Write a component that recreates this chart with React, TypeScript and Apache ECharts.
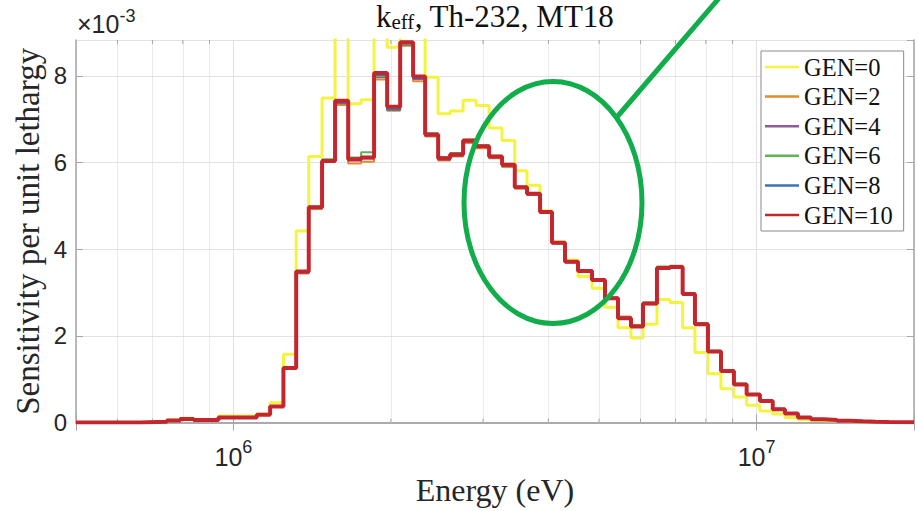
import React, { useEffect, useRef } from 'react';
import * as echarts from 'echarts';

// Energy bin edges (eV)
const EDGES = [
  5.0e5, 6.63e5, 7.46e5, 7.91e5, 8.39e5, 9.36e5, 1.108e6, 1.175e6, 1.246e6, 1.318e6,
  1.393e6, 1.477e6, 1.564e6, 1.657e6, 1.754e6, 1.857e6, 1.967e6, 2.083e6, 2.205e6, 2.325e6,
  2.462e6, 2.595e6, 2.748e6, 2.91e6, 3.081e6, 3.262e6, 3.45e6, 3.641e6, 3.856e6, 4.064e6,
  4.304e6, 4.557e6, 4.847e6, 5.132e6, 5.435e6, 5.754e6, 6.066e6, 6.451e6, 6.83e6, 7.224e6,
  7.625e6, 8.074e6, 8.551e6, 9.053e6, 9.574e6, 1.015e7, 1.074e7, 1.133e7, 1.2e7, 1.271e7,
  1.346e7, 1.425e7, 1.509e7, 1.597e7, 1.691e7, 1.791e7, 2.0e7,
];

// Sensitivity per unit lethargy (x10^-3), one value per bin
const GEN0 = [
  0.005, 0.02, 0.06, 0.1, 0.07, 0.15, 0.2, 0.46,
  1.58, 4.42, 6.14, 7.49, 9.6, 7.36, 7.45, 9.7,
  8.66, 10.3, 9.5, 7.97, 7.13, 7.19, 7.44, 7.32,
  6.8, 6.51, 5.81, 5.48, 4.89, 4.17, 3.75, 3.37,
  3.1, 2.66, 2.19, 1.95, 2.27, 2.84, 2.77, 2.19,
  1.62, 1.13, 0.78, 0.59, 0.4, 0.27, 0.2, 0.12,
  0.07, 0.05, 0.04, 0.025, 0.02, 0.012, 0.008, 0.004,
];
const GEN2 = [
  0.005, 0.02, 0.05, 0.085, 0.06, 0.12, 0.18, 0.37,
  1.24, 3.44, 4.93, 6.02, 7.33, 5.98, 6.02, 7.92,
  7.2, 8.7, 7.88, 6.6, 6.05, 6.14, 6.45, 6.33,
  6.1, 5.9, 5.4, 5.25, 4.84, 4.16, 3.72, 3.52,
  3.31, 2.89, 2.45, 2.25, 2.73, 3.55, 3.57, 2.95,
  2.26, 1.63, 1.18, 0.87, 0.64, 0.49, 0.3, 0.2,
  0.11, 0.074, 0.058, 0.04, 0.03, 0.02, 0.012, 0.006,
];
const GEN4 = [
  0.005, 0.02, 0.05, 0.085, 0.06, 0.12, 0.18, 0.36,
  1.25, 3.46, 4.95, 6.05, 7.37, 6.05, 6.1, 7.97,
  7.24, 8.72, 7.93, 6.62, 6.07, 6.16, 6.48, 6.36,
  6.12, 5.93, 5.42, 5.27, 4.85, 4.14, 3.7, 3.49,
  3.28, 2.86, 2.4, 2.21, 2.74, 3.56, 3.58, 2.96,
  2.26, 1.63, 1.19, 0.88, 0.65, 0.5, 0.31, 0.21,
  0.115, 0.075, 0.06, 0.04, 0.03, 0.02, 0.012, 0.006,
];
const GEN6 = [
  0.005, 0.02, 0.05, 0.085, 0.06, 0.12, 0.18, 0.37,
  1.26, 3.5, 4.99, 6.08, 7.4, 6.12, 6.24, 8.0,
  7.26, 8.74, 7.96, 6.68, 6.13, 6.22, 6.53, 6.4,
  6.16, 5.97, 5.45, 5.3, 4.88, 4.17, 3.73, 3.52,
  3.31, 2.89, 2.43, 2.24, 2.77, 3.6, 3.62, 2.99,
  2.3, 1.66, 1.21, 0.9, 0.66, 0.51, 0.32, 0.215,
  0.12, 0.078, 0.061, 0.041, 0.031, 0.02, 0.012, 0.006,
];
const GEN8 = [
  0.005, 0.02, 0.05, 0.085, 0.06, 0.12, 0.18, 0.37,
  1.25, 3.47, 4.96, 6.03, 7.38, 6.06, 6.1, 8.02,
  7.22, 8.76, 7.95, 6.63, 6.08, 6.17, 6.49, 6.37,
  6.13, 5.94, 5.42, 5.27, 4.85, 4.14, 3.7, 3.5,
  3.29, 2.87, 2.4, 2.21, 2.75, 3.58, 3.6, 2.98,
  2.28, 1.65, 1.2, 0.89, 0.65, 0.5, 0.31, 0.21,
  0.115, 0.076, 0.06, 0.04, 0.03, 0.02, 0.012, 0.006,
];
const GEN10 = [
  0.005, 0.02, 0.05, 0.085, 0.06, 0.12, 0.18, 0.37,
  1.26, 3.49, 4.97, 6.04, 7.43, 6.08, 6.12, 8.07,
  7.29, 8.78, 7.99, 6.65, 6.1, 6.19, 6.51, 6.38,
  6.14, 5.95, 5.43, 5.28, 4.86, 4.15, 3.71, 3.5,
  3.29, 2.87, 2.41, 2.22, 2.75, 3.57, 3.59, 2.97,
  2.27, 1.64, 1.19, 0.88, 0.65, 0.5, 0.31, 0.21,
  0.115, 0.076, 0.06, 0.04, 0.03, 0.02, 0.012, 0.006,
];

const SERIES_NAMES = ['GEN=0', 'GEN=2', 'GEN=4', 'GEN=6', 'GEN=8', 'GEN=10'];
const SERIES_COLORS = ['#f4f43e', '#e3892f', '#8f5b9f', '#62b256', '#3f72b0', '#c4262e'];
const SERIES_WIDTHS = [3, 2, 2, 2, 2, 4];
const MINOR_TICKS = [6e5, 7e5, 8e5, 9e5, 2e6, 3e6, 4e6, 5e6, 6e6, 7e6, 8e6, 9e6];
const X_MIN = 5e5;
const X_MAX = 2e7;
const Y_MAX = 8.83;

const SERIF = 'Liberation Serif';
const SANS = 'Liberation Sans';
const AXIS_COLOR = '#a6a6a6';
const GRID_COLOR = '#e2e2e2';
const GREEN = '#12ad4b';

export default function App() {
  const ref = useRef<HTMLDivElement>(null);

  useEffect(() => {
    if (!ref.current) return;
    const chart = echarts.init(ref.current, undefined, { renderer: 'svg' });
    const values = [GEN0, GEN2, GEN4, GEN6, GEN8, GEN10];
    const toSteps = (vals: number[]) => {
      const pts: number[][] = vals.map((v, i) => [EDGES[i], v]);
      pts.push([EDGES[EDGES.length - 1], vals[vals.length - 1]]);
      return pts;
    };

    const lineSeries: any[] = values.map((vals, i) => ({
      name: SERIES_NAMES[i],
      type: 'line',
      step: 'end',
      data: toSteps(vals),
      symbol: 'none',
      showSymbol: false,
      clip: true,
      silent: true,
      z: 3 + i,
      lineStyle: { color: SERIES_COLORS[i], width: SERIES_WIDTHS[i] },
      itemStyle: { color: SERIES_COLORS[i] },
      emphasis: { disabled: true },
    }));

    const minorGrid = {
      name: 'minor-grid',
      type: 'line',
      data: [[X_MIN, 0]],
      symbol: 'none',
      lineStyle: { width: 0 },
      z: 1,
      silent: true,
      markLine: {
        silent: true,
        symbol: 'none',
        label: { show: false },
        lineStyle: { type: 'dotted', color: '#d6d6d6', width: 1 },
        data: MINOR_TICKS.map((v) => ({ xAxis: v })),
      },
    };

    const xLabelFormatter = (v: number) => {
      const l = Math.log10(v);
      const e = Math.round(l);
      if (Math.abs(l - e) > 1e-6) return '';
      return `{b|10}{s|${e}}`;
    };

    const commonX = {
      type: 'log',
      logBase: 10,
      min: X_MIN,
      max: X_MAX,
      axisLine: { show: true, lineStyle: { color: AXIS_COLOR, width: 1.5 } },
      axisTick: { show: true, inside: true, length: 8, lineStyle: { color: AXIS_COLOR, width: 1 } },
      minorTick: { show: false },
    };

    const commonY = {
      type: 'value',
      min: 0,
      max: Y_MAX,
      interval: 2,
      axisLine: { show: true, lineStyle: { color: AXIS_COLOR, width: 1.5 } },
      axisTick: { show: true, inside: true, length: 7, lineStyle: { color: AXIS_COLOR, width: 1 } },
    };

    const option: any = {
      animation: false,
      backgroundColor: '#ffffff',
      title: {
        text: '{k|k}{sub|eff}{t|, Th-232, MT18}',
        left: 495,
        top: 0,
        textAlign: 'center',
        padding: 0,
        textStyle: {
          fontWeight: 'normal',
          fontFamily: SERIF,
          rich: {
            k: { fontFamily: SERIF, fontWeight: 'normal', fontSize: 31, lineHeight: 32, color: '#111' },
            sub: { fontFamily: SERIF, fontWeight: 'normal', fontSize: 21, lineHeight: 12, verticalAlign: 'bottom', color: '#111' },
            t: { fontFamily: SERIF, fontWeight: 'normal', fontSize: 31, lineHeight: 32, color: '#111' },
          },
        },
      },
      grid: { left: 76, right: 4, top: 40, bottom: 86, containLabel: false },
      legend: {
        data: SERIES_NAMES,
        orient: 'vertical',
        left: 761,
        top: 51,
        icon: 'rect',
        itemWidth: 34,
        itemHeight: 2.5,
        itemGap: 3.6,
        padding: [3, 11, 3, 4],
        borderColor: '#8a8a8a',
        borderWidth: 1,
        borderRadius: 0,
        backgroundColor: '#ffffff',
        selectedMode: false,
        textStyle: { fontFamily: SERIF, fontSize: 24.5, lineHeight: 26, color: '#111' },
        z: 20,
      },
      xAxis: [
        {
          ...commonX,
          position: 'bottom',
          name: 'Energy (eV)',
          nameLocation: 'middle',
          nameGap: 48,
          nameTextStyle: { fontFamily: SERIF, fontSize: 32, color: '#262626' },
          axisLabel: {
            show: true,
            margin: 15,
            formatter: xLabelFormatter,
            rich: {
              b: { fontFamily: SANS, fontSize: 25, lineHeight: 38, color: '#262626' },
              s: { fontFamily: SANS, fontSize: 18, lineHeight: 16, verticalAlign: 'top', color: '#262626' },
            },
          },
          splitLine: { show: true, lineStyle: { color: GRID_COLOR, width: 1 } },
        },
        {
          ...commonX,
          position: 'top',
          axisLabel: { show: false },
          splitLine: { show: false },
        },
      ],
      yAxis: [
        {
          ...commonY,
          position: 'left',
          name: 'Sensitivity per unit lethargy',
          nameLocation: 'middle',
          nameGap: 32,
          nameMoveOverlap: false,
          nameTextStyle: { fontFamily: SERIF, fontSize: 33, color: '#262626' },
          axisLabel: {
            show: true,
            margin: 9,
            showMaxLabel: false,
            fontFamily: SANS,
            fontSize: 24,
            color: '#262626',
          },
          splitLine: { show: true, lineStyle: { color: GRID_COLOR, width: 1 } },
        },
        {
          ...commonY,
          position: 'right',
          axisLabel: { show: false },
          splitLine: { show: false },
        },
      ],
      series: [minorGrid, ...lineSeries],
    };

    chart.setOption(option);

    const yTop = chart.convertToPixel({ yAxisIndex: 0 }, Y_MAX) as number;
    const yBot = chart.convertToPixel({ yAxisIndex: 0 }, 0) as number;
    const tickGraphics: any[] = [];
    MINOR_TICKS.forEach((v) => {
      const x = chart.convertToPixel({ xAxisIndex: 0 }, v) as number;
      tickGraphics.push({
        type: 'line', silent: true, z: 5,
        shape: { x1: x, y1: yBot, x2: x, y2: yBot - 4 },
        style: { stroke: AXIS_COLOR, lineWidth: 1 },
      });
      tickGraphics.push({
        type: 'line', silent: true, z: 5,
        shape: { x1: x, y1: yTop, x2: x, y2: yTop + 4 },
        style: { stroke: AXIS_COLOR, lineWidth: 1 },
      });
    });

    chart.setOption({
      graphic: [
        ...tickGraphics,
        {
          type: 'text',
          x: 77,
          y: 7,
          silent: true,
          style: {
            text: '{a|×10}{s|-3}',
            verticalAlign: 'top',
            rich: {
              a: { fontFamily: SANS, fontSize: 25, lineHeight: 34, fill: '#262626' },
              s: { fontFamily: SANS, fontSize: 18, lineHeight: 23, verticalAlign: 'top', fill: '#262626' },
            },
          },
        },
        {
          type: 'ellipse',
          silent: true,
          z: 100,
          shape: { cx: 553, cy: 202.5, rx: 89, ry: 121 },
          style: { fill: 'none', stroke: GREEN, lineWidth: 5 },
        },
        {
          type: 'line',
          silent: true,
          z: 100,
          shape: { x1: 617, y1: 117, x2: 720, y2: -3 },
          style: { stroke: GREEN, lineWidth: 5 },
        },
      ],
    });

    return () => {
      chart.dispose();
    };
  }, []);

  return (
    <div
      ref={ref}
      style={{ position: 'fixed', left: 0, top: 0, width: 918, height: 511, background: '#fff' }}
    />
  );
}
